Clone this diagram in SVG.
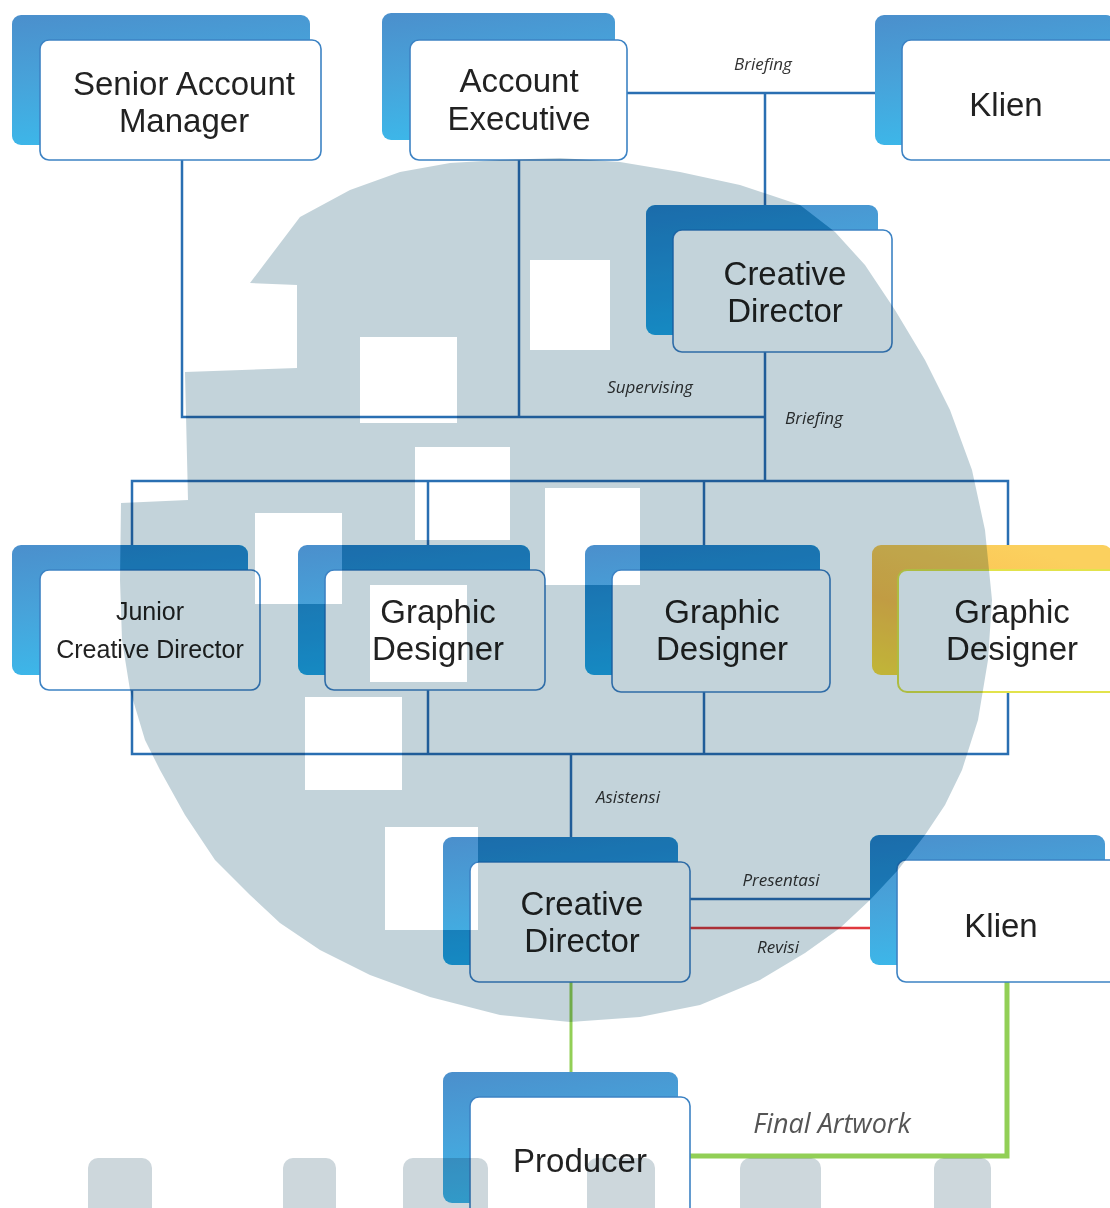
<svg xmlns="http://www.w3.org/2000/svg" width="1110" height="1208" viewBox="0 0 1110 1208">
<defs>
<linearGradient id="gBlue" x1="0" y1="0" x2="0.25" y2="1">
<stop offset="0" stop-color="#4b8fcc"/>
<stop offset="0.5" stop-color="#47a3da"/>
<stop offset="1" stop-color="#3cb8ea"/>
</linearGradient>
<linearGradient id="gYellow" x1="0" y1="1" x2="0.6" y2="0">
<stop offset="0" stop-color="#fddc40"/>
<stop offset="0.45" stop-color="#fdbd4e"/>
<stop offset="1" stop-color="#fbd05e"/>
</linearGradient>
<polygon id="wmShape" points="250,283 275,250 300,217 350,190 400,172 450,163 500,160 560,158 620,162 680,172 740,185 800,205 835,232 865,265 895,310 925,360 950,410 972,470 985,530 992,600 988,660 978,720 962,770 945,805 925,835 898,870 870,900 840,928 805,953 760,980 700,1005 640,1017 570,1022 500,1015 430,997 370,975 320,950 280,923 250,895 215,860 185,815 160,770 145,740 130,690 122,640 120,580 121,503 188,500 185,372 297,368 297,285"/>
<g id="wmHoles">
<rect x="360" y="337" width="97" height="86"/>
<rect x="530" y="260" width="80" height="90"/>
<rect x="415" y="447" width="95" height="93"/>
<rect x="255" y="513" width="87" height="91"/>
<rect x="545" y="488" width="95" height="97"/>
<rect x="370" y="585" width="97" height="97"/>
<rect x="305" y="697" width="97" height="93"/>
<rect x="385" y="827" width="93" height="103"/>
</g>
<mask id="wm" maskUnits="userSpaceOnUse" x="0" y="0" width="1110" height="1208">
<use href="#wmShape" fill="#fff"/>
<use href="#wmHoles" fill="#000"/>
</mask>
<mask id="wmBack" maskUnits="userSpaceOnUse" x="0" y="0" width="1110" height="1208">
<use href="#wmShape" fill="#fff"/>
<use href="#wmHoles" fill="#000"/>
<g fill="#000">
<rect x="673" y="230" width="219" height="122" rx="9"/>
<rect x="40" y="570" width="220" height="120" rx="9"/>
<rect x="325" y="570" width="220" height="120" rx="9"/>
<rect x="612" y="570" width="218" height="122" rx="9"/>
<rect x="470" y="862" width="220" height="120" rx="9"/>
<rect x="897" y="860" width="225" height="122" rx="9"/>
</g>
</mask>
<style>
.back{fill:url(#gBlue);}
.backY{fill:url(#gYellow);}
.front{fill:#fff;stroke:#3d83c4;stroke-width:1.6;}
.frontY{fill:#fff;stroke:#e2e34c;stroke-width:2;}
.lbl{font-family:"Liberation Sans",Arial,sans-serif;font-size:33px;fill:#222;text-anchor:middle;}
.sm{font-size:25px;}
.edge{font-family:"Open Sans","Noto Sans",sans-serif;font-style:italic;font-size:17px;fill:#333;text-anchor:middle;}
.big{font-size:27px;fill:#555;}
.ln{fill:none;stroke:#2a6fb2;stroke-width:2.5;}
.red{fill:none;stroke:#e0393f;stroke-width:2.5;}
.grn{fill:none;stroke:#92cf56;}
.blob{fill:#cdd7dc;}
.dk{fill:#75e8fa;}
</style>
</defs>
<rect width="1110" height="1208" fill="#fff"/>

<g id="connectors">
<path class="ln" d="M627 93 H875 M765 93 V205"/>
<path class="ln" d="M182 160 V417 H765 M519 160 V417 M765 352 V481"/>
<path class="ln" d="M132 481 H1008 V754 H132 Z"/>
<path class="ln" d="M428 481 V570 M704 481 V570 M428 690 V754 M704 692 V754"/>
<path class="ln" d="M571 754 V862"/>
<path class="ln" d="M690 899 H870"/>
<path class="red" d="M690 928 H870"/>
<path class="grn" stroke-width="3" d="M571 982 V1072"/>
<path class="grn" stroke-width="5" d="M1007 982 V1156 H690"/>
<text class="edge" x="763" y="70">Briefing</text>
<text class="edge" x="650" y="393">Supervising</text>
<text class="edge" x="814" y="424">Briefing</text>
<text class="edge" x="628" y="803">Asistensi</text>
<text class="edge" x="781" y="886">Presentasi</text>
<text class="edge" x="778" y="953">Revisi</text>
<text class="edge big" x="832" y="1133">Final Artwork</text>
</g>

<g id="n-senior-account-manager">
<rect class="back" x="12" y="15" width="298" height="130" rx="9"/>
<rect class="front" x="40" y="40" width="281" height="120" rx="9"/>
<text class="lbl"><tspan x="184" y="95">Senior Account</tspan><tspan x="184" y="132">Manager</tspan></text>
</g>

<g id="n-account-executive">
<rect class="back" x="382" y="13" width="233" height="127" rx="9"/>
<rect class="front" x="410" y="40" width="217" height="120" rx="9"/>
<text class="lbl"><tspan x="519" y="92">Account</tspan><tspan x="519" y="130">Executive</tspan></text>
</g>

<g id="n-klien-top">
<rect class="back" x="875" y="15" width="240" height="130" rx="9"/>
<rect class="front" x="902" y="40" width="222" height="120" rx="9"/>
<text class="lbl" x="1006" y="116">Klien</text>
</g>

<g id="n-creative-director-top">
<rect class="back" x="646" y="205" width="232" height="130" rx="9"/>
<rect class="front" x="673" y="230" width="219" height="122" rx="9"/>
<text class="lbl"><tspan x="785" y="285">Creative</tspan><tspan x="785" y="322">Director</tspan></text>
</g>

<g id="n-junior-creative-director">
<rect class="back" x="12" y="545" width="236" height="130" rx="9"/>
<rect class="front" x="40" y="570" width="220" height="120" rx="9"/>
<text class="lbl sm"><tspan x="150" y="620">Junior</tspan><tspan x="150" y="658">Creative Director</tspan></text>
</g>

<g id="n-graphic-designer-1">
<rect class="back" x="298" y="545" width="232" height="130" rx="9"/>
<rect class="front" x="325" y="570" width="220" height="120" rx="9"/>
<text class="lbl"><tspan x="438" y="623">Graphic</tspan><tspan x="438" y="660">Designer</tspan></text>
</g>

<g id="n-graphic-designer-2">
<rect class="back" x="585" y="545" width="235" height="130" rx="9"/>
<rect class="front" x="612" y="570" width="218" height="122" rx="9"/>
<text class="lbl"><tspan x="722" y="623">Graphic</tspan><tspan x="722" y="660">Designer</tspan></text>
</g>

<g id="n-graphic-designer-3">
<rect class="backY" x="872" y="545" width="240" height="130" rx="9"/>
<rect class="frontY" x="898" y="570" width="224" height="122" rx="9"/>
<text class="lbl"><tspan x="1012" y="623">Graphic</tspan><tspan x="1012" y="660">Designer</tspan></text>
</g>

<g id="n-creative-director-bottom">
<rect class="back" x="443" y="837" width="235" height="128" rx="9"/>
<rect class="front" x="470" y="862" width="220" height="120" rx="9"/>
<text class="lbl"><tspan x="582" y="915">Creative</tspan><tspan x="582" y="952">Director</tspan></text>
</g>

<g id="n-klien-bottom">
<rect class="back" x="870" y="835" width="235" height="130" rx="9"/>
<rect class="front" x="897" y="860" width="225" height="122" rx="9"/>
<text class="lbl" x="1001" y="937">Klien</text>
</g>

<g id="n-producer">
<rect class="back" x="443" y="1072" width="235" height="131" rx="9"/>
<rect class="front" x="470" y="1097" width="220" height="130" rx="9"/>
<text class="lbl" x="580" y="1172">Producer</text>
</g>

<g id="watermark" style="mix-blend-mode:multiply">
<rect x="0" y="0" width="1110" height="1208" fill="#c3d3da" mask="url(#wm)"/>
<rect class="blob" x="88" y="1158" width="64" height="60" rx="10"/>
<rect class="blob" x="283" y="1158" width="53" height="60" rx="10"/>
<rect class="blob" x="403" y="1158" width="85" height="60" rx="10"/>
<rect class="blob" x="587" y="1158" width="68" height="60" rx="10"/>
<rect class="blob" x="740" y="1158" width="81" height="60" rx="10"/>
<rect class="blob" x="934" y="1158" width="57" height="60" rx="10"/>
</g>
<g id="watermark-tint" style="mix-blend-mode:multiply" mask="url(#wmBack)">
<rect class="dk" x="646" y="205" width="232" height="130" rx="9"/>
<rect class="dk" x="12" y="545" width="236" height="130" rx="9"/>
<rect class="dk" x="298" y="545" width="232" height="130" rx="9"/>
<rect class="dk" x="585" y="545" width="235" height="130" rx="9"/>
<rect class="dk" x="443" y="837" width="235" height="128" rx="9"/>
<rect class="dk" x="870" y="835" width="235" height="130" rx="9"/>
</g>
</svg>
